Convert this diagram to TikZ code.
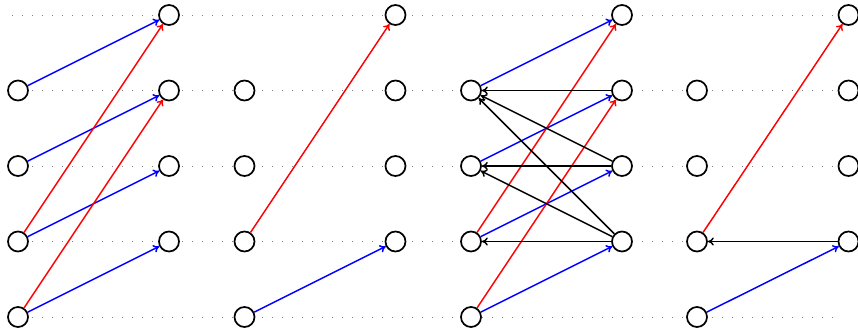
\documentclass[tikz,border=0pt]{standalone}
\usetikzlibrary{arrows.meta}
\begin{document}
\begin{tikzpicture}[x=0.75pt,y=-0.75pt,
  vtx/.style={circle,draw=black,fill=white,line width=1.3pt,minimum size=15pt,inner sep=0pt},
  guide/.style={gray,line width=0.7pt,dash pattern=on 0.7pt off 6.8pt},
  blu/.style={blue,line width=1.1pt,-{To[length=4.5pt,width=6pt]}},
  rd/.style={red,line width=1.1pt,-{To[length=4.5pt,width=6pt]}},
  blk/.style={black,line width=1.1pt,-{To[length=4.5pt,width=6pt]}}]
\useasboundingbox (0,0) rectangle (858,332);
% guides
\foreach \r/\yy in {0/15,1/90.5,2/166,3/241.5,4/317}{
  \coordinate (gs\r) at (12,\yy);
  \coordinate (ge\r) at (838,\yy);
  \draw[guide] (gs\r) -- (ge\r);
}
% nodes
\foreach \g/\lx/\rx in {0/18/169,1/244.5/395.5,2/471/622,3/697/848.5}{
  \foreach \r/\yy in {1/90.5,2/166,3/241.5,4/317}{
    \node[vtx] (L\g r\r) at (\lx,\yy) {};
  }
  \foreach \r/\yy in {0/15,1/90.5,2/166,3/241.5}{
    \node[vtx] (R\g r\r) at (\rx,\yy) {};
  }
}
% graph 1
\draw[blu] (L0r1) -- (R0r0);
\draw[blu] (L0r2) -- (R0r1);
\draw[blu] (L0r3) -- (R0r2);
\draw[blu] (L0r4) -- (R0r3);
\draw[rd] (L0r3) -- (R0r0);
\draw[rd] (L0r4) -- (R0r1);
% graph 2
\draw[rd] (L1r3) -- (R1r0);
\draw[blu] (L1r4) -- (R1r3);
% graph 3
\draw[blu] (L2r1) -- (R2r0);
\draw[blu] (L2r2) -- (R2r1);
\draw[blu] (L2r3) -- (R2r2);
\draw[blu] (L2r4) -- (R2r3);
\draw[rd] (L2r3) -- (R2r0);
\draw[rd] (L2r4) -- (R2r1);
\draw[blk] (R2r1) -- (L2r1);
\draw[blk] (R2r2) -- (L2r1);
\draw[blk] (R2r2) -- (L2r2);
\draw[blk] (R2r3) -- (L2r1);
\draw[blk] (R2r3) -- (L2r2);
\draw[blk] (R2r3) -- (L2r3);
% graph 4
\draw[rd] (L3r3) -- (R3r0);
\draw[blu] (L3r4) -- (R3r3);
\draw[blk] (R3r3) -- (L3r3);
\end{tikzpicture}
\end{document}
